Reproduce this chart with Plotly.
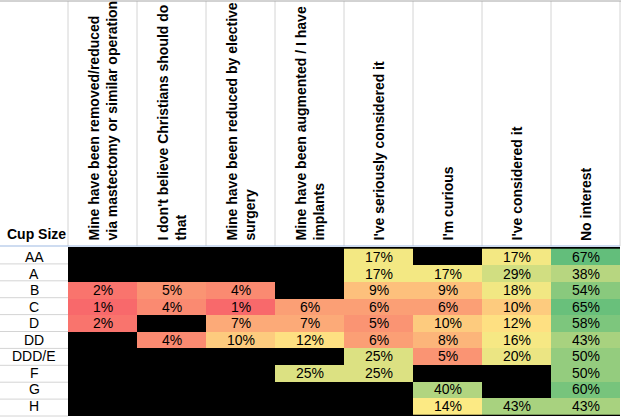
import plotly.graph_objects as go

W, H = 621, 418

cups = ["AA", "A", "B", "C", "D", "DD", "DDD/E", "F", "G", "H"]

headers = [
    "Mine have been removed/reduced<br>via mastectomy or similar operation",
    "I don't believe Christians should do<br>that",
    "Mine have been reduced by elective<br>surgery",
    "Mine have been augmented / I have<br>implants",
    "I've seriously considered it",
    "I'm curious",
    "I've considered it",
    "No interest",
]

removed = [None, None, 2, 1, 2, None, None, None, None, None]
christians = [None, None, 5, 4, None, 4, None, None, None, None]
reduced = [None, None, 4, 1, 7, 10, None, None, None, None]
augmented = [None, None, None, 6, 7, 12, None, 25, None, None]
seriously = [17, 17, 9, 6, 5, 6, 25, 25, None, None]
curious = [None, 17, 9, 6, 10, 8, 5, None, 40, 14]
considered = [17, 29, 18, 10, 12, 16, 20, None, None, 43]
no_interest = [67, 38, 54, 65, 58, 43, 50, 50, 60, 43]

columns = [removed, christians, reduced, augmented, seriously, curious, considered, no_interest]

z = [[columns[c][r] for c in range(len(columns))] for r in range(len(cups))]
text = [["" if v is None else f"{v}%" for v in row] for row in z]

all_vals = sorted(v for col in columns for v in col if v is not None)
n = len(all_vals)
median = (all_vals[(n - 1) // 2] + all_vals[n // 2]) / 2
vmin, vmax = all_vals[0], all_vals[-1]
mid = (median - vmin) / (vmax - vmin)

colorscale = [[0, "#F8696B"], [mid, "#FFEB84"], [1, "#63BE7B"]]

X0, X1 = 68, 620
Y0, Y1 = 247, 416
HEAD_BOT = 246

def px(x):
    return x / W

def py(y):
    return 1 - y / H

FONT = "Arial, Liberation Sans, sans-serif"
FS = 14

fig = go.Figure(
    go.Heatmap(
        z=z,
        x=list(range(len(columns))),
        y=cups,
        text=text,
        texttemplate="%{text}",
        textfont=dict(family=FONT, size=FS, color="black"),
        colorscale=colorscale,
        zmin=vmin,
        zmax=vmax,
        showscale=False,
        hoverinfo="skip",
    )
)

fig.update_layout(
    width=W,
    height=H,
    margin=dict(l=0, r=0, t=0, b=0),
    paper_bgcolor="white",
    plot_bgcolor="black",
    xaxis=dict(domain=[px(X0), px(X1)], range=[-0.5, 7.5], visible=False, fixedrange=True),
    yaxis=dict(domain=[py(Y1), py(Y0)], autorange="reversed", visible=False, type="category"),
    showlegend=False,
)

shapes = []
colw = (X1 - X0) / len(columns)
grid = "#D4D4D4"
for i in range(len(columns) + 1):
    x = X0 + i * colw
    shapes.append(dict(type="line", xref="paper", yref="paper", x0=px(x), x1=px(x),
                       y0=py(1), y1=py(HEAD_BOT), line=dict(color=grid, width=1)))
rowh = (Y1 - Y0) / len(cups)
for r in range(1, len(cups) + 1):
    y = Y0 + r * rowh
    shapes.append(dict(type="line", xref="paper", yref="paper", x0=0, x1=px(X0),
                       y0=py(y), y1=py(y), line=dict(color=grid, width=1)))
shapes.append(dict(type="line", xref="paper", yref="paper", x0=0, x1=1,
                   y0=py(1), y1=py(1), line=dict(color="#A6A6A6", width=1)))
shapes.append(dict(type="line", xref="paper", yref="paper", x0=0, x1=px(X1),
                   y0=py(HEAD_BOT), y1=py(HEAD_BOT), line=dict(color="#9DB9E2", width=1)))
fig.update_layout(shapes=shapes)

ann = []
for i, h in enumerate(headers):
    ann.append(dict(x=i, xref="x", y=py(243), yref="paper", text=f"<b>{h}</b>",
                    textangle=-90, xanchor="center", yanchor="bottom", align="left",
                    showarrow=False, font=dict(family=FONT, size=FS, color="black")))
ann.append(dict(x=px(5), xref="paper", y=py(244), yref="paper", text="<b>Cup Size</b>",
                xanchor="left", yanchor="bottom", showarrow=False,
                font=dict(family=FONT, size=FS, color="black")))
for c in cups:
    ann.append(dict(x=px(34), xref="paper", y=c, yref="y", text=c, xanchor="center",
                    yanchor="middle", showarrow=False,
                    font=dict(family=FONT, size=FS, color="black")))
fig.update_layout(annotations=ann)

fig.write_html("out.html")
